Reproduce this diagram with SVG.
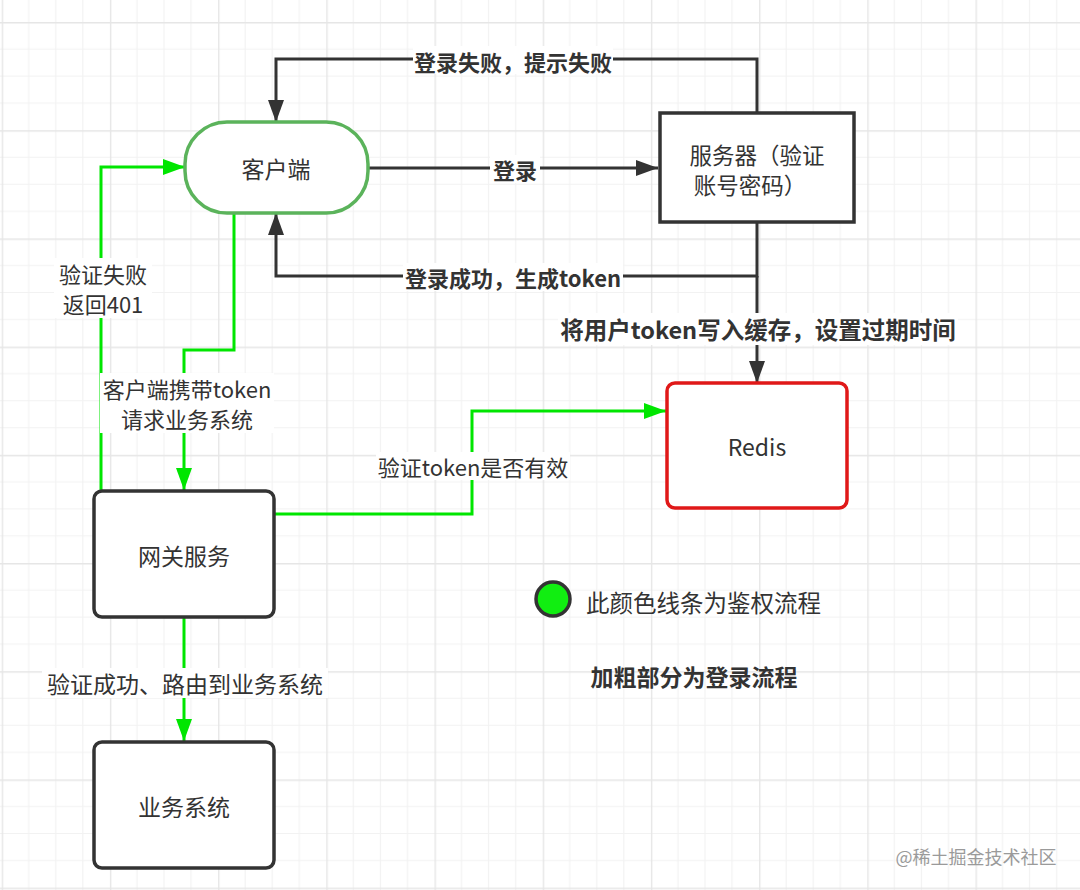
<svg xmlns="http://www.w3.org/2000/svg" width="1080" height="890" viewBox="0 0 1080 890">
  <defs>
    <pattern id="grid" x="1.7" y="22" width="108.2" height="108.2" patternUnits="userSpaceOnUse">
      <path d="M27.05,0 V108.2 M54.1,0 V108.2 M81.15,0 V108.2 M0,27.05 H108.2 M0,54.1 H108.2 M0,81.15 H108.2" stroke="#f2f2f2" stroke-width="1.2" fill="none"/>
      <path d="M0.6,0 V108.2 M0,0.6 H108.2" stroke="#e6e6e6" stroke-width="1.6" fill="none"/>
    </pattern>
    <marker id="arrDark" markerUnits="userSpaceOnUse" markerWidth="24" markerHeight="18" refX="22" refY="8" orient="auto">
      <path d="M0,0 L22,8 L0,16 z" fill="#333333"/>
    </marker>
    <marker id="arrGreen" markerUnits="userSpaceOnUse" markerWidth="24" markerHeight="18" refX="22" refY="8" orient="auto">
      <path d="M0,0 L22,8 L0,16 z" fill="#00e600"/>
    </marker>
    <style>
      text { font-family: "Noto Sans CJK SC", "Noto Sans", "Liberation Sans", sans-serif; fill: #333333; text-anchor: middle; dominant-baseline: central; }
      .node { font-size: 23px; }
      .lbl { font-size: 22px; }
      .blbl { font-size: 22px; font-weight: bold; }
      .dark { fill: none; stroke: #333333; stroke-width: 3; marker-end: url(#arrDark); }
      .green { fill: none; stroke: #00e600; stroke-width: 3; marker-end: url(#arrGreen); }
      .bg { fill: #ffffff; }
      .box { fill: #ffffff; stroke: #333333; stroke-width: 3.5; }
    </style>
  </defs>

  <rect x="0" y="0" width="1080" height="890" fill="#ffffff"/>
  <rect x="0" y="0" width="1080" height="890" fill="url(#grid)"/>

  <g id="connectors">
    <!-- login flow (dark) -->
    <path class="dark" d="M757,113 V59 H276 V122"/>
    <path class="dark" d="M368,168 H658"/>
    <path class="dark" d="M757,222 V276 H276 V213"/>
    <path class="dark" d="M757,276 V383"/>
    <!-- auth flow (green) -->
    <path class="green" d="M234,213 V350 H184 V490"/>
    <path class="green" d="M101,490 V167 H185"/>
    <path class="green" d="M274,514 H472 V411 H666"/>
    <path class="green" d="M184,617 V741"/>

    <!-- labels -->
    <rect class="bg" x="413" y="46" width="200" height="28"/>
    <text class="blbl" x="513" y="61">登录失败，提示失败</text>

    <rect class="bg" x="490" y="155" width="50" height="28"/>
    <text class="blbl" x="515" y="169">登录</text>

    <rect class="bg" x="403" y="263" width="220" height="28"/>
    <text class="blbl" x="513" y="277">登录成功，生成token</text>

    <rect class="bg" x="558" y="313" width="400" height="32"/>
    <text class="blbl" x="758" y="329" style="font-size:23.5px">将用户token写入缓存，设置过期时间</text>

    <rect class="bg" x="100" y="373" width="174" height="60"/>
    <text class="lbl" x="187" y="388">客户端携带token</text>
    <text class="lbl" x="187" y="418">请求业务系统</text>

    <rect class="bg" x="54" y="258" width="98" height="60"/>
    <text class="lbl" x="103" y="273">验证失败</text>
    <text class="lbl" x="103" y="303">返回401</text>

    <rect class="bg" x="376" y="452" width="194" height="28"/>
    <text class="lbl" x="473" y="466">验证token是否有效</text>

    <rect class="bg" x="42" y="668" width="286" height="30"/>
    <text class="lbl" x="185" y="683" style="font-size:23px">验证成功、路由到业务系统</text>
  </g>

  <g id="client">
    <rect x="185" y="122" width="183" height="91" rx="42" ry="42" fill="#ffffff" stroke="#5bb35b" stroke-width="3.5"/>
    <text class="node" x="276" y="168">客户端</text>
  </g>

  <g id="server">
    <rect class="box" x="660" y="113" width="194" height="109"/>
    <text class="node" x="757" y="154" style="font-size:22.5px">服务器（验证</text>
    <text class="node" x="750" y="184" style="font-size:22.5px">账号密码）</text>
  </g>

  <g id="redis">
    <rect x="667" y="383" width="180" height="125" rx="8" ry="8" fill="#ffffff" stroke="#e01818" stroke-width="3.5"/>
    <text class="node" x="757" y="446">Redis</text>
  </g>

  <g id="gateway">
    <rect class="box" x="94" y="491" width="180" height="126" rx="8" ry="8"/>
    <text class="node" x="184" y="555">网关服务</text>
  </g>

  <g id="business">
    <rect class="box" x="94" y="742" width="180" height="126" rx="8" ry="8"/>
    <text class="node" x="184" y="806">业务系统</text>
  </g>

  <g id="legend">
    <circle cx="553" cy="599" r="17" fill="#11ee11" stroke="#333333" stroke-width="3.5"/>
    <text x="586" y="602" style="font-size:23.5px; text-anchor:start">此颜色线条为鉴权流程</text>
    <text x="694" y="676" style="font-size:23px; font-weight:bold">加粗部分为登录流程</text>
  </g>

  <text x="976" y="856" style="font-size:18px; fill:#9a9a9a">@稀土掘金技术社区</text>
</svg>
